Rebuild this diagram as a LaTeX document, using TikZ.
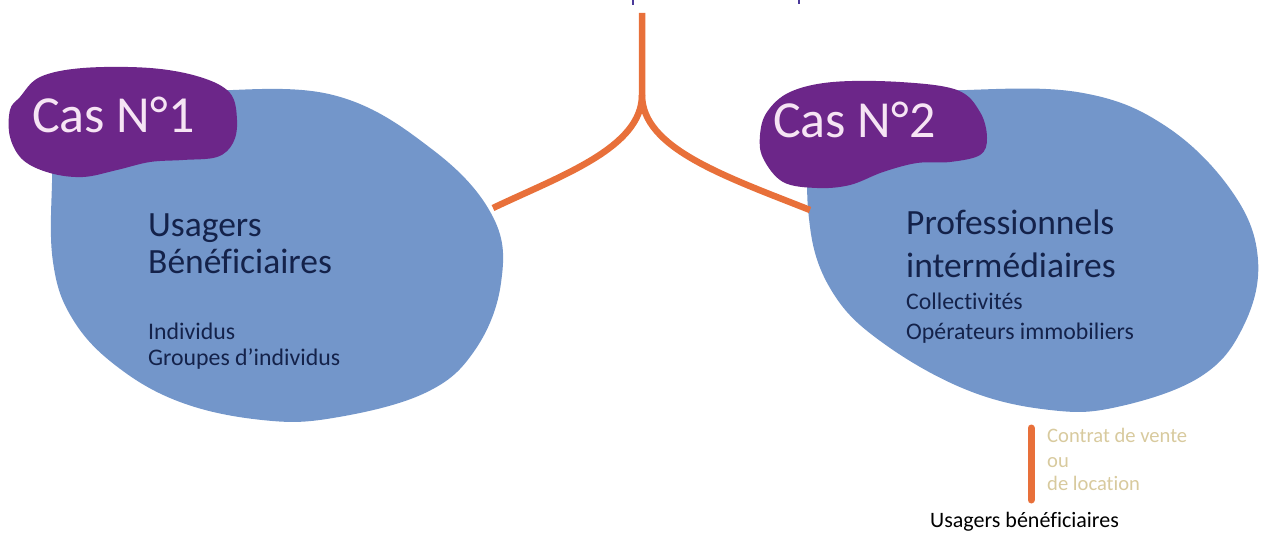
\documentclass[tikz,border=0pt]{standalone}
\usepackage{fontspec}
\setmainfont[Ligatures=NoCommon]{Carlito}
\definecolor{blobblue}{HTML}{7396CA}
\definecolor{caspurple}{HTML}{6C2689}
\definecolor{castext}{HTML}{F6E4F4}
\definecolor{navy}{HTML}{14224A}
\definecolor{linkorange}{HTML}{E8703A}
\definecolor{tan}{HTML}{D8CA9E}
\definecolor{topviolet}{HTML}{4B3A9A}
\tikzset{
  blueblob/.style={fill=blobblue, draw=none},
  purpleblob/.style={fill=caspurple, draw=none},
  caslabel/.style={anchor=base west, inner sep=0pt, text=castext, font=\fontsize{52}{54}\selectfont},
  bigtxt/.style={anchor=base west, inner sep=0pt, text=navy, font=\fontsize{35.5}{38}\selectfont},
  smalltxt/.style={anchor=base west, inner sep=0pt, text=navy, font=\fontsize{23.8}{25}\selectfont},
  tantxt/.style={anchor=base west, inner sep=0pt, text=tan, font=\fontsize{20.6}{22}\selectfont},
  blacktxt/.style={anchor=base west, inner sep=0pt, text=black, font=\fontsize{22}{24}\selectfont},
  link/.style={draw=linkorange, line width=6.5pt},
}
\begin{document}
\begin{tikzpicture}[x=1pt,y=-1pt]
\useasboundingbox (0,0) rectangle (1263,534);
% cut-off top text descenders
\draw[topviolet, line width=2pt] (633,0) -- (633,5);
\draw[topviolet, line width=2pt] (799,0) -- (799,4);
% left blue blob
\fill[blueblob] plot[smooth cycle, tension=0.65] coordinates {
 (57,117) (110,96) (200,91) (333,95) (433,150) (493,217) (501,283)
 (475,350) (425,393) (333,418) (262,420) (180,402) (115,365) (72,318)
 (53,262) (52,183)};
% right blue blob
\fill[blueblob] plot[smooth cycle, tension=0.65] coordinates {
 (815,150) (870,100) (967,90) (1083,93) (1167,127) (1233,193) (1258,260)
 (1243,327) (1200,377) (1117,407) (1050,410) (967,390) (883,343)
 (833,293) (810,227)};
% purple blobs
\fill[purpleblob] plot[smooth cycle, tension=0.6] coordinates {
 (20,97) (40,77) (83,68) (150,68) (200,77) (230,93) (237,120) (233,143)
 (217,157) (183,160) (150,162) (117,170) (83,177) (50,173) (23,160)
 (10,137) (10,110)};
\fill[purpleblob] plot[smooth cycle, tension=0.6] coordinates {
 (767,112) (790,92) (833,82) (900,82) (957,90) (980,112) (987,138)
 (980,155) (950,162) (917,163) (883,172) (850,185) (817,188) (783,182)
 (763,158) (760,135)};
% labels
\node[caslabel] (cas1) at (32,133) {Cas N°1};
\node[caslabel] (cas2) at (773,138) {Cas N°2};
\node[bigtxt] (u1) at (148,237) {Usagers};
\node[bigtxt] (u2) at (148,274) {Bénéficiaires};
\node[smalltxt] (i1) at (148,340) {Individus};
\node[smalltxt] (i2) at (148,366) {Groupes d’individus};
\node[bigtxt] (p1) at (906,235) {Professionnels};
\node[bigtxt] (p2) at (906,278) {intermédiaires};
\node[smalltxt] (c1) at (906,310) {Collectivités};
\node[smalltxt] (c2) at (906,340) {Opérateurs immobiliers};
\node[tantxt] (t1) at (1047,442) {Contrat de vente};
\node[tantxt] (t2) at (1047,467) {ou};
\node[tantxt] (t3) at (1047,490) {de location};
\node[blacktxt] (ub) at (930,527) {Usagers bénéficiaires};
% connectors
\coordinate (top) at (642,13);
\coordinate (J) at (642,95);
\coordinate (L) at (493,208);
\coordinate (R) at (810,210);
\draw[link] (top) -- (J) .. controls (642,148) and (560,176) .. (L);
\draw[link] (J) .. controls (642,148) and (724,176) .. (R);
\coordinate (vs) at (1031,428);
\coordinate (ve) at (1031,500);
\draw[link, line width=7pt, line cap=round] (vs) -- (ve);
\end{tikzpicture}
\end{document}
